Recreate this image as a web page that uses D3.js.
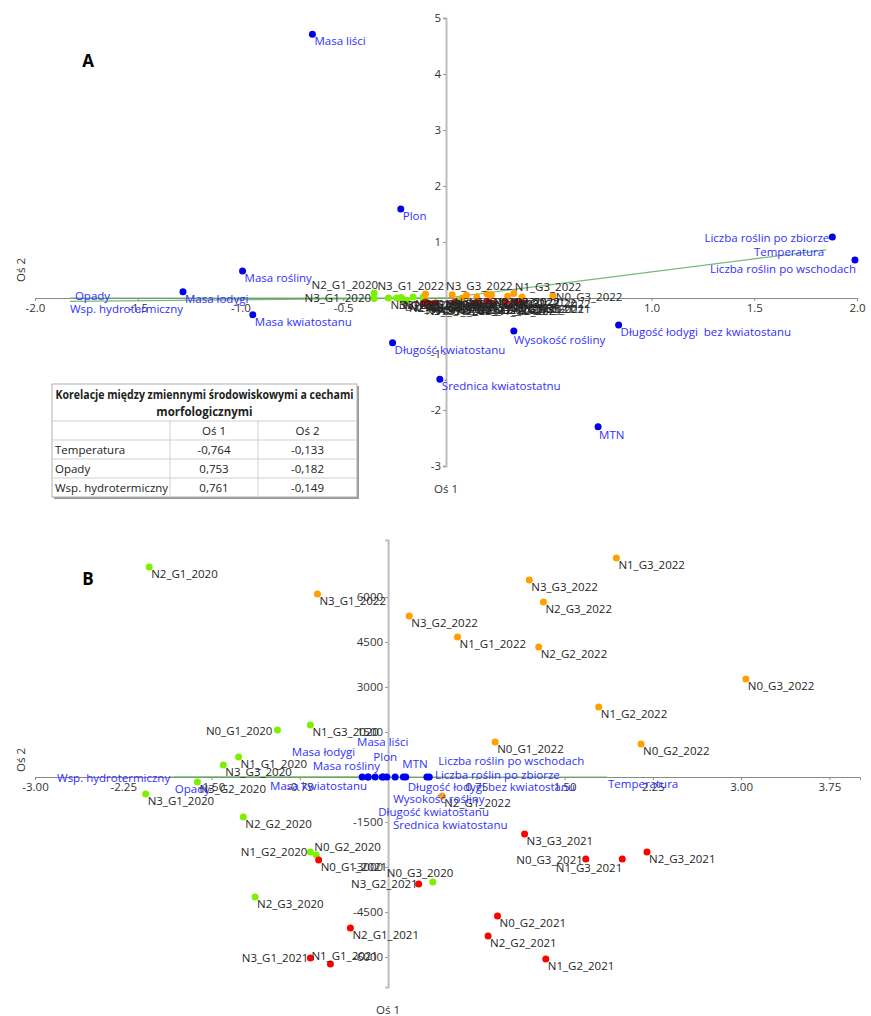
<!DOCTYPE html>
<html>
<head>
<meta charset="utf-8">
<style>
  body { margin: 0; background: #fff; }
  svg text { font-family: "Open Sans", sans-serif; }
  .tick text { font-size: 11.5px; fill: #333; }
  .lbl { font-size: 11.5px; white-space: pre; }
</style>
</head>
<body>
<div id="chart"></div>
<script src="https://cdn.jsdelivr.net/npm/d3@7"></script>
<script>
// ---- panel A: variables (blue points)
const varNamesA = ["Masa liści", "Plon", "Liczba roślin po zbiorze", "Liczba roślin po wschodach",
  "Masa rośliny", "Masa łodygi", "Masa kwiatostanu", "Długość kwiatostanu",
  "Średnica kwiatostatnu", "Wysokość rośliny", "Długość łodygi  bez kwiatostanu", "MTN"];
const varXA = [-0.65, -0.22, 1.88, 1.99, -0.99, -1.28, -0.94, -0.26, -0.03, 0.33, 0.84, 0.74];
const varYA = [4.71, 1.59, 1.09, 0.68, 0.48, 0.11, -0.30, -0.80, -1.45, -0.59, -0.48, -2.30];

// ---- panel B: variables
const varNamesB = ["Masa liści", "Plon", "Liczba roślin po zbiorze", "Liczba roślin po wschodach",
  "Masa rośliny", "Masa łodygi", "Masa kwiatostanu", "Długość kwiatostanu",
  "Średnica kwiatostanu", "Wysokość rośliny", "Długość łodygi bez kwiatostanu", "MTN"];
const varXB = [-0.11, -0.04, 0.33, 0.35, -0.17, -0.22, -0.17, -0.05, -0.01, 0.06, 0.15, 0.13];
const varYB = [0, 0, 0, 0, 0, 0, 0, 0, 0, 0, 0, 0];

// ---- environmental vectors
const envNames = ["Temperatura", "Opady", "Wsp. hydrotermiczny"];
const envXA = [1.85, -1.83, -1.83];
const envYA = [0.86, 0.00, -0.06];
const envXB = [1.86, -1.82, -1.86];
const envYB = [0, 0, 0];

// ---- observations
const obsNames = [
  "N2_G1_2020", "N0_G1_2020", "N1_G3_2020", "N1_G1_2020", "N3_G3_2020", "N3_G2_2020",
  "N3_G1_2020", "N2_G2_2020", "N1_G2_2020", "N0_G2_2020", "N2_G3_2020", "N0_G3_2020",
  "N0_G1_2021", "N3_G2_2021", "N2_G1_2021", "N3_G1_2021", "N1_G1_2021", "N3_G3_2021",
  "N0_G3_2021", "N1_G3_2021", "N2_G3_2021", "N0_G2_2021", "N2_G2_2021", "N1_G2_2021",
  "N3_G1_2022", "N3_G2_2022", "N1_G3_2022", "N3_G3_2022", "N2_G3_2022", "N1_G1_2022",
  "N2_G2_2022", "N0_G3_2022", "N1_G2_2022", "N0_G1_2022", "N0_G2_2022", "N2_G1_2022"];
const obsXB = [-2.03, -0.94, -0.66, -1.27, -1.40, -1.62, -2.06, -1.23, -0.66, -0.61, -1.13, 0.38,
  -0.59, 0.26, -0.32, -0.66, -0.49, 1.16, 1.68, 1.99, 2.20, 0.93, 0.85, 1.34,
  -0.60, 0.18, 1.94, 1.20, 1.32, 0.59, 1.28, 3.04, 1.79, 0.91, 2.15, 0.46];
const obsYB = [7000, 1570, 1730, 670, 400, -170, -570, -1330, -2500, -2600, -4000, -3500,
  -2770, -3570, -5030, -6030, -6230, -1900, -2730, -2730, -2500, -4630, -5300, -6070,
  6100, 5370, 7300, 6570, 5830, 4670, 4330, 3270, 2330, 1170, 1100, -630];
const obsXA = [-0.35, -0.16, -0.11, -0.22, -0.24, -0.28, -0.35, -0.21, -0.11, -0.10, -0.19, 0.06,
  -0.10, 0.04, -0.05, -0.11, -0.08, 0.20, 0.29, 0.34, 0.37, 0.16, 0.14, 0.23,
  -0.10, 0.03, 0.33, 0.20, 0.22, 0.10, 0.22, 0.52, 0.30, 0.15, 0.37, 0.08];
const obsYA = [0.09, 0.02, 0.02, 0.01, 0.00, 0.00, -0.01, -0.02, -0.03, -0.03, -0.05, -0.04,
  -0.07, -0.08, -0.09, -0.10, -0.10, -0.06, -0.07, -0.07, -0.07, -0.09, -0.09, -0.10,
  0.07, 0.06, 0.08, 0.07, 0.06, 0.05, 0.05, 0.04, 0.03, 0.02, 0.02, 0.00];

// ---- ticks
const ticksXA = [-2.0, -1.5, -1.0, -0.5, 0.5, 1.0, 1.5, 2.0];
const ticksYA = [-3, -2, -1, 1, 2, 3, 4, 5];
const ticksXB = [-3.00, -2.25, -1.50, -0.75, 0.75, 1.50, 2.25, 3.00, 3.75];
const ticksYB = [-6000, -4500, -3000, -1500, 1500, 3000, 4500, 6000];

// ---- correlation table
const tableTitle = ["Korelacje między zmiennymi środowiskowymi a cechami", "morfologicznymi"];
const tableHead = ["", "Oś 1", "Oś 2"];
const tableRows = ["Temperatura", "Opady", "Wsp. hydrotermiczny"];
const tableOs1 = ["-0,764", "0,753", "0,761"];
const tableOs2 = ["-0,133", "-0,182", "-0,149"];

const yearColor = { "2020": "#7cf000", "2021": "#ff0000", "2022": "#ffa000" };
const blueDot = "#0000f0", blueText = "#3030ff", green = "#5fae5f";

// label placement (layout only): [dx, dy, anchor]
const defLbl = [2, 8, "start"];
const lblVarA = {
  "Liczba roślin po zbiorze": [-3, 2, "end"],
  "Liczba roślin po wschodach": [1, 10, "end"],
  "Wysokość rośliny": [0, 10, "start"],
  "MTN": [1, 9, "start"]
};
const lblEnvA = { "Temperatura": [-2, 3, "end"], "Opady": [5, -1, "start"], "Wsp. hydrotermiczny": [0, 9, "start"] };
const lblVarB = {
  "Masa liści": [-18, -34, "start"], "Plon": [-10, -19, "start"], "MTN": [-1, -12, "start"],
  "Masa łodygi": [-7, -24, "end"], "Masa rośliny": [12, -10, "end"], "Masa kwiatostanu": [-1, 10, "end"],
  "Liczba roślin po wschodach": [9, -15, "start"], "Liczba roślin po zbiorze": [8, -1, "start"],
  "Długość łodygi bez kwiatostanu": [2, 11, "start"], "Wysokość rośliny": [-2, 23, "start"],
  "Długość kwiatostanu": [-4, 36, "start"], "Średnica kwiatostanu": [6, 49, "start"]
};
const lblEnvB = { "Temperatura": [1, 8, "start"], "Opady": [1, 13, "start"], "Wsp. hydrotermiczny": [1, 2, "end"] };
const lblObsA = {
  "N2_G1_2020": [4, -7, "end"], "N3_G1_2020": [-3, 0, "end"], "N3_G1_2022": [-48, -7, "start"],
  "N3_G3_2022": [-41, -7, "start"], "N1_G3_2022": [1, -6, "start"], "N0_G3_2022": [3, 2, "start"]
};
const lblObsB = {
  "N0_G1_2020": [-5, 2, "end"], "N1_G2_2020": [-3, 1, "end"], "N0_G2_2020": [-2, -7, "start"],
  "N0_G3_2020": [-46, -8, "start"], "N3_G2_2021": [-1, 1, "end"], "N3_G1_2021": [-2, 1, "end"],
  "N1_G1_2021": [-19, -7, "start"], "N0_G3_2021": [-3, 2, "end"], "N1_G3_2021": [0, 10, "end"]
};

const W = 871, H = 1016;
const svg = d3.select("#chart").append("svg").attr("width", W).attr("height", H);

function panel(cfg) {
  const g = svg.append("g");
  const x = d3.scaleLinear().domain(cfg.xDom).range(cfg.xRange);
  const y = d3.scaleLinear().domain(cfg.yDom).range(cfg.yRange);
  const x0 = x(0), y0 = y(0);

  // x axis
  const xa = g.append("g").attr("transform", `translate(0,${y0})`)
    .call(d3.axisBottom(x).tickValues(cfg.xTicks).tickSizeOuter(0).tickSize(3).tickPadding(3)
      .tickFormat(d => d.toFixed(cfg.xDec)));
  xa.select(".domain").attr("stroke", "#8a8a8a");
  xa.selectAll(".tick line").attr("stroke", "#8a8a8a");

  // y axis
  const ya = g.append("g").attr("transform", `translate(${x0},0)`)
    .call(d3.axisLeft(y).tickValues(cfg.yTicks).tickSizeOuter(0).tickSize(3).tickPadding(2)
      .tickFormat(d => String(d)));
  ya.select(".domain").attr("stroke", "#bdbdbd").attr("stroke-width", 2);
  ya.selectAll(".tick line").attr("stroke", "#9a9a9a");

  // environmental vectors
  g.selectAll(".env").data(envNames).join("line")
    .attr("x1", x0).attr("y1", y0)
    .attr("x2", (d, i) => x(cfg.envX[i])).attr("y2", (d, i) => y(cfg.envY[i]))
    .attr("stroke", green).attr("stroke-width", cfg.envW).attr("stroke-opacity", 0.85);

  // variable points
  g.selectAll(".vdot").data(cfg.varNames).join("circle")
    .attr("cx", (d, i) => x(cfg.varX[i])).attr("cy", (d, i) => y(cfg.varY[i]))
    .attr("r", 3.5).attr("fill", blueDot);

  // observation points
  g.selectAll(".odot").data(obsNames).join("circle")
    .attr("cx", (d, i) => x(cfg.obsX[i])).attr("cy", (d, i) => y(cfg.obsY[i]))
    .attr("r", 3.5).attr("fill", d => yearColor[d.slice(-4)]);

  function labels(names, xs, ys, place, color) {
    g.selectAll(null).data(names).join("text")
      .attr("class", "lbl")
      .each(function(d, i) {
        const p = place[d] || defLbl;
        d3.select(this)
          .attr("x", x(xs[i]) + p[0]).attr("y", y(ys[i]) + p[1])
          .attr("text-anchor", p[2]).attr("dominant-baseline", "middle");
      })
      .attr("fill", color)
      .text(d => d);
  }
  labels(obsNames, cfg.obsX, cfg.obsY, cfg.lblObs, "#262626");
  labels(cfg.varNames, cfg.varX, cfg.varY, cfg.lblVar, blueText);
  labels(envNames, cfg.envX, cfg.envY, cfg.lblEnv, blueText);

  // titles
  g.append("text").attr("x", 88).attr("y", cfg.letterY).attr("text-anchor", "middle")
    .attr("dominant-baseline", "middle").attr("font-weight", "bold").attr("font-size", 17)
    .attr("font-family", "'Liberation Sans', sans-serif").text(cfg.letter);
  g.append("text").attr("transform", `translate(22,${cfg.os2Y}) rotate(-90)`)
    .attr("text-anchor", "middle").attr("dominant-baseline", "middle")
    .attr("font-size", 11.5).attr("fill", "#333").text("Oś 2");
  g.append("text").attr("x", x0).attr("y", cfg.os1Y).attr("text-anchor", "middle")
    .attr("dominant-baseline", "middle").attr("font-size", 11.5).attr("fill", "#333").text("Oś 1");
}

panel({
  xDom: [-2, 2], xRange: [35, 857], yDom: [-3, 5], yRange: [466, 18],
  xTicks: ticksXA, yTicks: ticksYA, xDec: 1,
  varNames: varNamesA, varX: varXA, varY: varYA,
  envX: envXA, envY: envYA, envW: 1.2,
  obsX: obsXA, obsY: obsYA,
  lblVar: lblVarA, lblEnv: lblEnvA, lblObs: lblObsA,
  letter: "A", letterY: 62, os2Y: 270, os1Y: 490
});

panel({
  xDom: [-3, 4.01], xRange: [35, 860], yDom: [-7000, 7900], yRange: [987, 540],
  xTicks: ticksXB, yTicks: ticksYB, xDec: 2,
  varNames: varNamesB, varX: varXB, varY: varYB,
  envX: envXB, envY: envYB, envW: 1,
  obsX: obsXB, obsY: obsYB,
  lblVar: lblVarB, lblEnv: lblEnvB, lblObs: lblObsB,
  letter: "B", letterY: 580, os2Y: 760, os1Y: 1011
});

// ---- correlation table
const tb = svg.append("g").attr("font-family", "Lato, sans-serif").attr("font-size", 11.5).attr("fill", "#222");
const tL = 52, tR = 357, c1 = 170, c2 = 258, tTop = 384, titleB = 421, rowH = 19;
const rowTops = [titleB, titleB + rowH, titleB + 2 * rowH, titleB + 3 * rowH];
const tBot = titleB + 4 * rowH;

tb.append("rect").attr("x", tL + 2).attr("y", tTop + 2).attr("width", tR - tL).attr("height", tBot - tTop)
  .attr("fill", "#9a9a9a");
tb.append("rect").attr("x", tL).attr("y", tTop).attr("width", tR - tL).attr("height", tBot - tTop)
  .attr("fill", "#fff").attr("stroke", "#b0b0b0");
tb.selectAll(".hl").data(rowTops).join("line")
  .attr("x1", tL).attr("x2", tR).attr("y1", d => d).attr("y2", d => d).attr("stroke", "#d0d0d0");
tb.selectAll(".vl").data([c1, c2]).join("line")
  .attr("x1", d => d).attr("x2", d => d).attr("y1", titleB).attr("y2", tBot).attr("stroke", "#d0d0d0");

tb.selectAll(".tt").data(tableTitle).join("text")
  .attr("x", (tL + tR) / 2).attr("y", (d, i) => 396 + i * 17)
  .attr("text-anchor", "middle").attr("dominant-baseline", "middle").attr("font-weight", "bold")
  .attr("textLength", (d, i) => i === 0 ? 298 : null)
  .attr("lengthAdjust", "spacingAndGlyphs")
  .text(d => d);
const colCx = [null, (c1 + c2) / 2, (c2 + tR) / 2];
tb.selectAll(".th").data(tableHead).join("text")
  .attr("x", (d, i) => colCx[i] || tL + 3).attr("y", titleB + rowH / 2 + 1)
  .attr("text-anchor", "middle").attr("dominant-baseline", "middle").text(d => d);
tb.selectAll(".rn").data(tableRows).join("text")
  .attr("x", tL + 3).attr("y", (d, i) => titleB + rowH * (i + 1.5) + 1)
  .attr("dominant-baseline", "middle").text(d => d);
tb.selectAll(".r1").data(tableOs1).join("text")
  .attr("x", colCx[1]).attr("y", (d, i) => titleB + rowH * (i + 1.5) + 1)
  .attr("text-anchor", "middle").attr("dominant-baseline", "middle").text(d => d);
tb.selectAll(".r2").data(tableOs2).join("text")
  .attr("x", colCx[2]).attr("y", (d, i) => titleB + rowH * (i + 1.5) + 1)
  .attr("text-anchor", "middle").attr("dominant-baseline", "middle").text(d => d);
</script>
</body>
</html>
